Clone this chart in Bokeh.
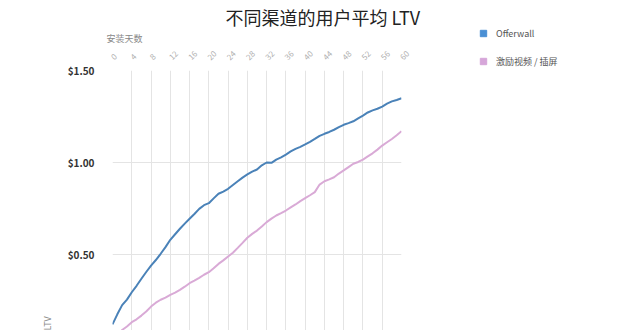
import math
from bokeh.plotting import figure
from bokeh.layouts import row
from bokeh.models import (FixedTicker, NumeralTickFormatter, Title, Legend, LegendItem)
from bokeh.embed import file_html
from bokeh.resources import INLINE

days = list(range(0, 61))
offerwall = [0.12, 0.175, 0.225, 0.255, 0.295, 0.33, 0.368, 0.405, 0.44, 0.47,
             0.504, 0.54, 0.58, 0.61, 0.64, 0.668, 0.694, 0.72, 0.748, 0.768,
             0.779, 0.805, 0.83, 0.842, 0.857, 0.878, 0.898, 0.918, 0.935, 0.95,
             0.962, 0.985, 1.0, 0.998, 1.016, 1.028, 1.043, 1.06, 1.074, 1.085,
             1.098, 1.112, 1.128, 1.145, 1.156, 1.166, 1.178, 1.192, 1.205, 1.214,
             1.224, 1.24, 1.255, 1.272, 1.283, 1.292, 1.304, 1.32, 1.332, 1.34, 1.349]
video = [0.03, 0.06, 0.09, 0.109, 0.132, 0.148, 0.168, 0.19, 0.217, 0.238,
         0.254, 0.266, 0.281, 0.293, 0.308, 0.325, 0.344, 0.358, 0.373, 0.39,
         0.404, 0.425, 0.449, 0.468, 0.489, 0.51, 0.536, 0.563, 0.591, 0.612,
         0.63, 0.652, 0.676, 0.695, 0.712, 0.725, 0.739, 0.756, 0.772, 0.79,
         0.806, 0.822, 0.839, 0.88, 0.898, 0.908, 0.92, 0.94, 0.957, 0.975,
         0.993, 1.003, 1.016, 1.033, 1.05, 1.07, 1.092, 1.11, 1.128, 1.148, 1.17]
x_ticks = list(range(0, 61, 4))
y_ticks = [0.5, 1.0, 1.5]
series_names = ["Offerwall", "激励视频 / 插屏"]
series_colors = ["#4a82b8", "#d9aad6"]
legend_colors = ["#4a8fd4", "#d6a6d9"]
title_text = "不同渠道的用户平均 LTV"
x_label = "安装天数"
y_label = "LTV"

FONT = "Noto Sans CJK SC"
W, H = 640, 330
MAIN_W = 440

p = figure(width=MAIN_W, height=H, x_range=(0, 60), y_range=(0.087, 1.5),
           output_backend="svg", toolbar_location=None, x_axis_location="above",
           title=None,
           min_border_left=112, min_border_right=39, min_border_top=70,
           min_border_bottom=0, outline_line_color=None)

# axes
xa = p.xaxis[0]
xa.ticker = FixedTicker(ticks=x_ticks)
xa.major_label_orientation = math.pi / 4
xa.major_label_text_color = "#b0b0b0"
xa.major_label_text_font_size = "8px"
xa.major_label_text_font = FONT
xa.axis_line_color = None
xa.major_tick_line_color = None
xa.minor_tick_line_color = None
xa.major_label_standoff = 6

ya = p.yaxis[0]
ya.ticker = FixedTicker(ticks=y_ticks)
ya.formatter = NumeralTickFormatter(format="$0.00")
ya.major_label_text_color = "#333333"
ya.major_label_text_font_size = "10px"
ya.major_label_text_font_style = "bold"
ya.major_label_text_font = FONT
ya.axis_line_color = None
ya.major_tick_line_color = None
ya.minor_tick_line_color = None
ya.major_label_standoff = 12

p.xgrid.ticker = FixedTicker(ticks=x_ticks)
p.ygrid.ticker = FixedTicker(ticks=y_ticks)
p.xgrid.grid_line_color = "#e4e4e4"
p.ygrid.grid_line_color = "#e4e4e4"

# lines
p.line(days, video, line_color=series_colors[1], line_width=2)
p.line(days, offerwall, line_color=series_colors[0], line_width=2)

# titles in side panels
p.add_layout(Title(text=x_label, align="left", offset=-6, standoff=0,
                   text_font_size="9px", text_color="#888888",
                   text_font=FONT, text_font_style="normal"), "above")
p.add_layout(Title(text=title_text, align="left", offset=113, standoff=0,
                   text_font_size="18px", text_color="#222222",
                   text_font=FONT, text_font_style="normal"), "above")
p.add_layout(Title(text=y_label, align="left", offset=0, standoff=21,
                   text_font_size="9px", text_color="#888888",
                   text_font=FONT, text_font_style="normal"), "left")

# legend panel (separate figure to the right); legend sits in a side panel
lg = figure(width=W - MAIN_W, height=H, x_range=(10, 11), y_range=(10, 11),
            output_backend="svg", toolbar_location=None, title=None,
            x_axis_location=None, y_axis_location=None,
            min_border_left=0, min_border_right=0, min_border_top=0,
            min_border_bottom=0, outline_line_color=None)
lg.grid.visible = False
# legend-key markers: single off-range point per series so the key square is drawn
r1 = lg.scatter([0], [0], marker="square", color=legend_colors[0], size=7)
r2 = lg.scatter([0], [0], marker="square", color=legend_colors[1], size=7)
leg = Legend(items=[LegendItem(label=series_names[0], renderers=[r1]),
                    LegendItem(label=series_names[1], renderers=[r2])],
             location=(35, 259), padding=0, margin=0, spacing=8,
             glyph_width=16, glyph_height=16, label_height=20, label_standoff=5,
             label_text_font_size="9px", label_text_color="#555555",
             label_text_font=FONT, border_line_color=None,
             background_fill_alpha=0)
lg.add_layout(leg, "left")

layout = row(p, lg)
open("out.html", "w").write(file_html(layout, INLINE))
